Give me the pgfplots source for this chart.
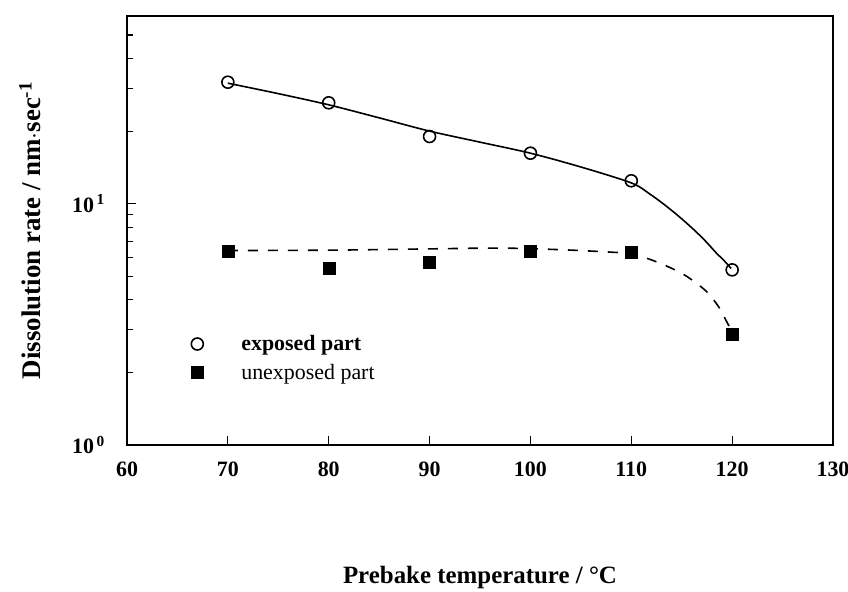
\documentclass[border=0pt]{standalone}
\usepackage{pgfplots}
\pgfplotsset{compat=1.18}
\usepackage{fontspec}
\setmainfont{Liberation Serif}
\begin{document}
\begin{tikzpicture}
\begin{axis}[name=ax, scale only axis, width=706bp, height=429bp,
  xmin=60, xmax=130, ymode=log, ymin=1, ymax=60,
  xtick={60,70,...,130},
  xticklabels={60,70,80,90,100,110,120,130},
  ytick={1,10}, yticklabels={10\textsuperscript{\,0},10\textsuperscript{\,1}},
  extra y ticks={2,3,4,5,6,7,8,9,20,30,40,50},
  extra y tick labels={},
  extra y tick style={major tick length=6bp},
  tick align=inside, xtick pos=left, ytick pos=left,
  major tick length=9bp,
  axis line style={line width=2.6bp},
  every tick/.style={line width=1.2bp, black},
  tick label style={font=\fontsize{22}{24}\selectfont\bfseries},
  xticklabel style={inner sep=0pt, yshift=-17bp},
  yticklabel style={inner sep=0pt, xshift=-22bp},
  xlabel={Prebake temperature / \textdegree C},
  ylabel={Dissolution rate / nm$\cdot$sec\textsuperscript{-1}},
  xlabel style={font=\fontsize{25}{28}\selectfont\bfseries, at={(axis description cs:0.5,-0.3077)}, anchor=center},
  ylabel style={font=\fontsize{27}{30}\selectfont\bfseries, at={(axis description cs:-0.1374,0.5)}, anchor=center},
  legend style={draw=none, fill=none, inner sep=0pt,
    at={(axis description cs:0.088,0.26)}, anchor=north west,
    font=\fontsize{22}{24}\selectfont\mdseries, row sep=8bp,
    cells={anchor=west}},
  legend image code/.code={\draw[#1] plot coordinates {(0bp,0bp)}; \path[draw=none,fill=none] (-8bp,-6bp) rectangle (42bp,6bp);},
]
% fitted curves
\addplot[forget plot, black, line width=1.6bp, smooth, tension=0.5] coordinates {
(70,31.6) (75,28.6) (80,25.7) (85,22.7) (90,20.0) (95,18.0) (100,16.2)
(105,14.2) (110,12.2) (111.8,11.0) (113.3,9.9) (114.75,8.84) (116.2,7.81) (117.4,6.97) (118.4,6.27) (119.2,5.81) (119.9,5.39)};
\addplot[forget plot, black, line width=1.6bp, dash pattern=on 10bp off 10bp, smooth, tension=0.5] coordinates {
(70,6.4) (80,6.42) (90,6.5) (97,6.55) (103,6.45) (108,6.3) (110,6.2) (112,5.85)
(114,5.4) (115.5,5.0) (117.4,4.35) (118.7,3.72) (119.5,3.22) (120,2.95)};
% data points
\addplot[only marks, mark=o, mark size=6bp, mark options={line width=1.6bp, fill=white}] coordinates {
(70,31.9) (80,26.2) (90,19.0) (100,16.2) (110,12.45) (120,5.32)};
\addplot[only marks, mark=square*, mark size=6bp, mark options={fill=black}] coordinates {
(70,6.34) (80,5.40) (90,5.72) (100,6.34) (110,6.29) (120,2.89)};
\legend{\textbf{exposed part}, unexposed part}
\end{axis}
\pgfresetboundingbox
\path[use as bounding box] ([shift={(-127bp,-146bp)}]ax.south west) rectangle ([shift={(15bp,16bp)}]ax.north east);
\end{tikzpicture}
\end{document}
